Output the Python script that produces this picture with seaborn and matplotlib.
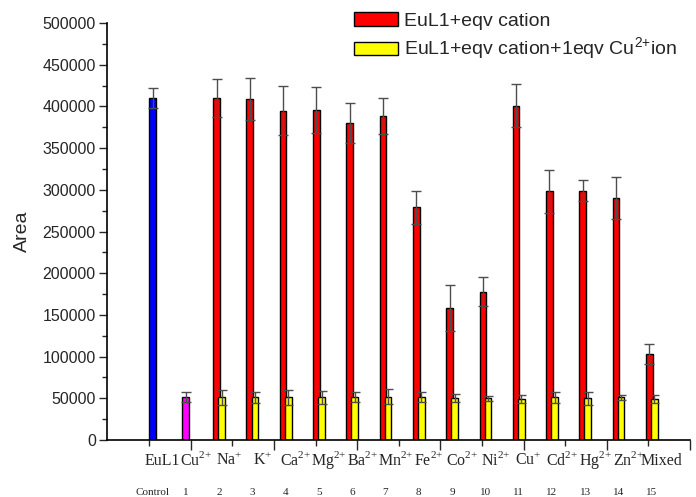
#!/usr/bin/env python3
"""Bar chart of EuL1 emission area with added cations, with and without Cu2+."""

import numpy as np
import pandas as pd
import seaborn as sns
import matplotlib.pyplot as plt
from matplotlib.ticker import MultipleLocator, StrMethodFormatter


def sup(base, charge=''):
    """Ion name with a superscript charge in the text's own font."""
    if not charge:
        return base
    # wrap '+' in braces so mathtext does not space it like a binary operator
    charge = charge.replace('+', '{+}')
    return f"{base}$^{{\\mathregular{{{charge}}}}}$"


# control bars
control_names = ['EuL1', 'Cu2+']
control_values = [410000, 51000]
control_errors = [12500, 6000]
control_colors = ['#0000FF', '#FF00FF']

# cation groups
ion_bases = ['Na', 'K', 'Ca', 'Mg', 'Ba', 'Mn', 'Fe', 'Co', 'Ni', 'Cu', 'Cd', 'Hg', 'Zn', 'Mixed']
ion_charges = ['+', '+', '2+', '2+', '2+', '2+', '2+', '2+', '2+', '+', '2+', '2+', '2+', '']
cation_values = [410000, 409000, 395000, 396000, 380000, 389000, 279000,
                 158000, 178000, 401000, 298000, 299000, 290000, 103000]
cation_errors = [23000, 25500, 29000, 27500, 24000, 21500, 19800,
                 27400, 17700, 26000, 25500, 12200, 25500, 12400]
cu_values = [51000, 51000, 51000, 51000, 51000, 52000, 51000,
             50000, 50000, 49500, 51000, 50000, 51000, 49500]
cu_errors = [9500, 7000, 9500, 8000, 6000, 9000, 6000,
             5000, 3000, 5000, 7000, 8000, 2500, 5000]

name_labels = [sup('EuL1'), sup('Cu', '2+')] + [sup(b, c) for b, c in zip(ion_bases, ion_charges)]
number_labels = ['Control'] + [str(i) for i in range(1, 16)]

sns.set_style('ticks')
plt.rcParams['font.family'] = ['Liberation Sans', 'DejaVu Sans']

fig = plt.figure(figsize=(6.96, 4.97), dpi=100)
ax = fig.add_axes([0.1537, 0.1147, 0.8377, 0.839])

bar_w = 0.2
shift = 0.077
err_kw = dict(fmt='none', ecolor='#4d4d4d', elinewidth=1, capsize=3.5, capthick=1)
ctrl_pos = np.arange(len(control_values))
ion_pos = np.arange(len(control_values), len(control_values) + len(ion_bases))

ctrl_df = pd.DataFrame({'pos': ctrl_pos, 'value': control_values, 'name': control_names})
sns.barplot(data=ctrl_df, x='pos', y='value', hue='name', palette=control_colors,
            native_scale=True, dodge=False, width=bar_w, errorbar=None, saturation=1,
            edgecolor='black', linewidth=1, legend=False, ax=ax)
ax.errorbar(ctrl_pos, control_values, yerr=control_errors, zorder=3, **err_kw)

sns.barplot(x=ion_pos - shift, y=cation_values, color='#FF0000', native_scale=True,
            width=bar_w, errorbar=None, saturation=1, edgecolor='black', linewidth=1,
            label='EuL1+eqv cation', ax=ax)
ax.errorbar(ion_pos - shift, cation_values, yerr=cation_errors, zorder=3, **err_kw)

sns.barplot(x=ion_pos + shift, y=cu_values, color='#FFFF00', native_scale=True,
            width=bar_w, errorbar=None, saturation=1, edgecolor='black', linewidth=1,
            label='EuL1+eqv cation+1eqv ' + sup('Cu', '2+') + 'ion', ax=ax)
ax.errorbar(ion_pos + shift, cu_values, yerr=cu_errors, zorder=4, **err_kw)

# axes
ax.set_ylim(0, 500000)
ax.set_xlim(-1.368, 15.78)
ax.yaxis.set_major_locator(MultipleLocator(50000))
ax.yaxis.set_minor_locator(MultipleLocator(25000))
ax.yaxis.set_major_formatter(StrMethodFormatter('{x:.0f}'))
ax.tick_params(axis='y', which='major', length=6, width=1, labelsize=11.5, pad=2)
ax.tick_params(axis='y', which='minor', length=3.5, width=1)

tick_start = -0.103
ax.set_xticks(tick_start + 1.25 + 2.5 * np.arange(7))
ax.set_xticks(tick_start + 2.5 * np.arange(7), minor=True)
ax.set_xticklabels([])
ax.tick_params(axis='x', which='major', length=7, width=1)
ax.tick_params(axis='x', which='minor', length=4, width=1)
ax.set_xlabel('')
ax.set_ylabel('Area', fontsize=14, labelpad=8)

for side in ['top', 'right']:
    ax.spines[side].set_visible(False)
for side in ['left', 'bottom']:
    ax.spines[side].set_linewidth(1.2)
    ax.spines[side].set_color('black')

# ion names and sample numbers under the axis
for i, (name, num) in enumerate(zip(name_labels, number_labels)):
    ax.text(i + 0.3, -0.06, name, transform=ax.get_xaxis_transform(),
            ha='center', va='baseline', fontsize=11.5, family='Liberation Serif')
    ax.text(i, -0.132, num, transform=ax.get_xaxis_transform(),
            ha='center', va='baseline', fontsize=8, family='Liberation Serif')

ax.legend(loc='upper left', bbox_to_anchor=(0.508, 0.975), bbox_transform=fig.transFigure,
          frameon=False, fontsize=14, handlelength=2.27, handleheight=0.72,
          handletextpad=0.3, labelspacing=0.28, borderpad=0, borderaxespad=0)

fig.savefig('out.png', dpi=100)
